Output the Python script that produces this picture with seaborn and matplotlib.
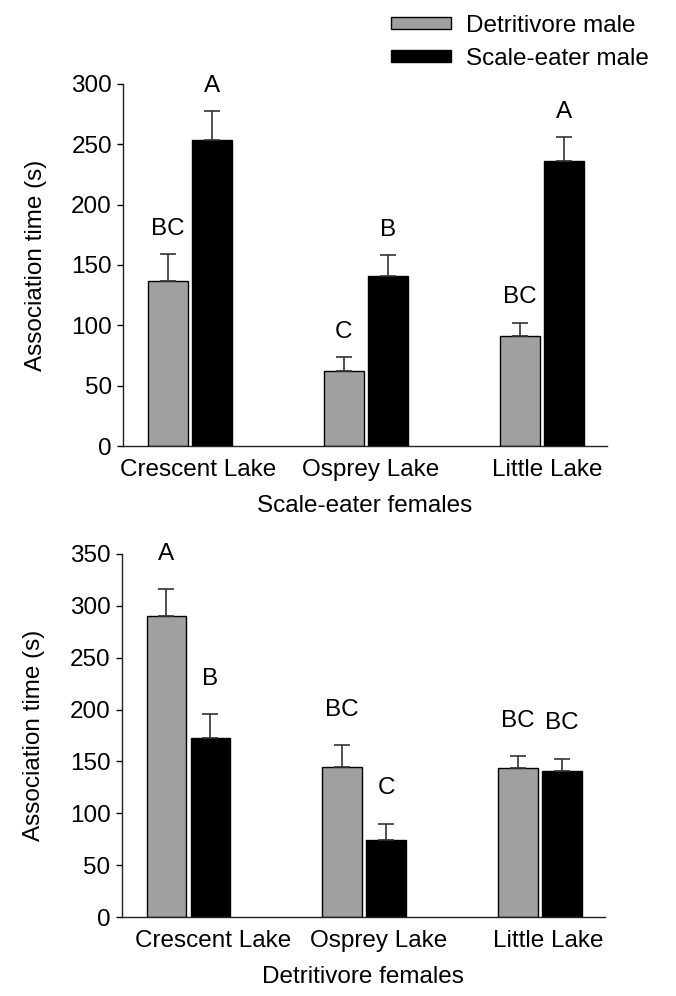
import matplotlib
matplotlib.use('Agg')
import matplotlib.pyplot as plt
from matplotlib.patches import Patch
from matplotlib.transforms import ScaledTranslation
import seaborn as sns
import pandas as pd

# dados
lakes = ['Crescent Lake', 'Osprey Lake', 'Little Lake']
males = ['Detritivore male', 'Scale-eater male']

# femeas scale-eater (painel de cima)
se_detr_mean = [137, 62, 91]
se_detr_err = [22, 11.5, 11]
se_scale_mean = [253.5, 141, 236]
se_scale_err = [24, 17, 20]
se_detr_letters = ['BC', 'C', 'BC']
se_scale_letters = ['A', 'B', 'A']

# femeas detritivore (painel de baixo)
de_detr_mean = [290, 145, 143.5]
de_detr_err = [26, 20.5, 11.5]
de_scale_mean = [172.5, 74, 140.5]
de_scale_err = [23.5, 16, 12.3]
de_detr_letters = ['A', 'BC', 'BC']
de_scale_letters = ['B', 'C', 'BC']

GRAY = '#a0a0a0'
FS = 17.5

sns.set_style('ticks')
plt.rcParams['font.family'] = ['Liberation Sans', 'DejaVu Sans']
plt.rcParams['text.color'] = 'black'
plt.rcParams['axes.labelcolor'] = 'black'
plt.rcParams['xtick.color'] = 'black'
plt.rcParams['ytick.color'] = 'black'


def painel(ax, detr_mean, detr_err, scale_mean, scale_err, detr_letters, scale_letters,
           ymax, xlabel, letter_pad, label_shift):
    df = pd.DataFrame({
        'lake': lakes * 2,
        'male': [males[0]] * 3 + [males[1]] * 3,
        'time': detr_mean + scale_mean,
    })
    sns.barplot(data=df, x='lake', y='time', hue='male', order=lakes, hue_order=males,
                palette=[GRAY, 'black'], width=0.5, gap=0.1, edgecolor='black',
                linewidth=1, errorbar=None, legend=False, ax=ax)

    # barras de erro (so para cima) e letras
    for cont, means, errs, letters in zip(ax.containers, [detr_mean, scale_mean],
                                          [detr_err, scale_err], [detr_letters, scale_letters]):
        for bar, m, e, l in zip(cont, means, errs, letters):
            x = bar.get_x() + bar.get_width() / 2
            ax.errorbar(x, m, yerr=[[0], [e]], fmt='none', ecolor='#333333',
                        elinewidth=1.2, capsize=6, capthick=1.2, zorder=1)
            ax.annotate(l, (x, m + e), xytext=(0, letter_pad), textcoords='offset points',
                        ha='center', va='baseline', fontsize=FS)

    ax.set_xlim(-0.38, 2.37)
    ax.set_ylim(0, ymax)
    ax.set_yticks(range(0, ymax + 1, 50))
    ax.set_ylabel('Association time (s)', fontsize=FS)
    ax.set_xlabel(xlabel, fontsize=FS)
    ax.yaxis.set_label_coords(-0.158, 0.5)
    ax.xaxis.set_label_coords(0.5, -0.135)
    ax.tick_params(axis='y', labelsize=FS, length=4, width=1, direction='out', pad=4)
    ax.tick_params(axis='x', labelsize=FS, length=0, pad=9)
    sns.despine(ax=ax)
    for s in ['left', 'bottom']:
        ax.spines[s].set_linewidth(1)
        ax.spines[s].set_color('#222222')
    for lbl, dx in zip(ax.get_xticklabels(), label_shift):
        lbl.set_transform(lbl.get_transform() + ScaledTranslation(dx / 100, 0, ax.figure.dpi_scale_trans))


fig = plt.figure(figsize=(6.76, 9.96), dpi=100)
ax1 = fig.add_axes([0.182, 0.5522, 0.716, 0.3635])
ax2 = fig.add_axes([0.180, 0.0793, 0.715, 0.3645])

painel(ax1, se_detr_mean, se_detr_err, se_scale_mean, se_scale_err,
       se_detr_letters, se_scale_letters, 300, 'Scale-eater females', 14, [8, 5, 5])
painel(ax2, de_detr_mean, de_detr_err, de_scale_mean, de_scale_err,
       de_detr_letters, de_scale_letters, 350, 'Detritivore females', 21, [25, 14, 8])

handles = [Patch(facecolor=GRAY, edgecolor='black', linewidth=1),
           Patch(facecolor='black', edgecolor='black', linewidth=1)]
fig.legend(handles=handles, labels=males, loc='upper left', bbox_to_anchor=(0.578, 0.985),
           frameon=False, fontsize=FS, handlelength=2.5, handleheight=0.4,
           handletextpad=0.6, labelspacing=0.45, borderpad=0, borderaxespad=0)

plt.savefig('out.png', dpi=100)
